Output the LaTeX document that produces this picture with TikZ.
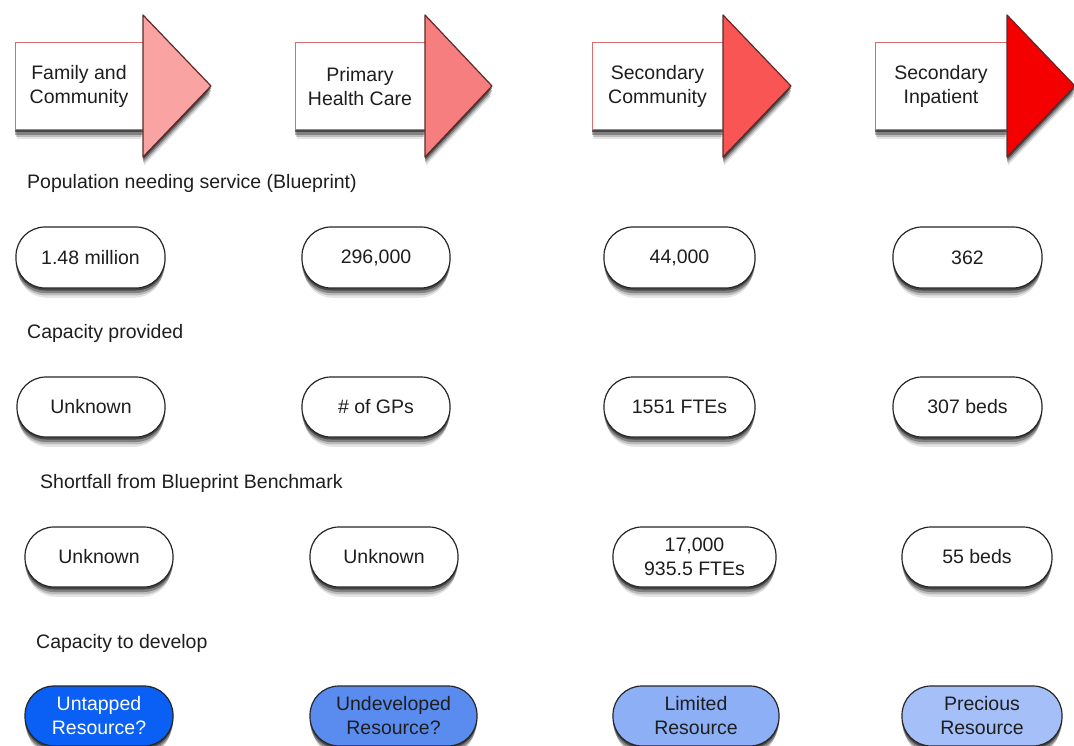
\documentclass[tikz,border=0pt]{standalone}
\usepackage{fontspec}
\setmainfont{Liberation Sans}
\usetikzlibrary{shadows}
\definecolor{txt}{RGB}{30,30,30}
\definecolor{tri1}{RGB}{249,163,163}
\definecolor{tri2}{RGB}{247,126,126}
\definecolor{tri3}{RGB}{250,85,85}
\definecolor{tri4}{RGB}{244,0,0}
\definecolor{rectedge}{RGB}{214,110,110}
\definecolor{triedge}{RGB}{95,40,40}
\definecolor{blueA}{RGB}{10,95,245}
\definecolor{blueB}{RGB}{90,140,240}
\definecolor{blueC}{RGB}{140,175,245}
\definecolor{blueD}{RGB}{165,192,248}
\tikzset{
  every node/.style={font=\fontsize{19.5}{24}\selectfont, text=txt},
  softshadow/.style={
    general shadow={shadow xshift=0pt, shadow yshift=-11pt, shadow scale=0.97, fill=black, opacity=0.10},
    general shadow={shadow xshift=0pt, shadow yshift=-8pt, shadow scale=0.985, fill=black, opacity=0.18},
    general shadow={shadow xshift=0pt, shadow yshift=-5pt, fill=black, opacity=0.30},
    general shadow={shadow xshift=0pt, shadow yshift=-2.5pt, fill=black, opacity=0.45}},
  pill/.style={draw=black!85, line width=1.2pt, fill=white, rectangle, rounded corners=29pt,
    minimum height=60pt, inner sep=0pt, align=center, softshadow},
  stagebox/.style={draw=rectedge, line width=1pt, fill=white, rectangle, minimum height=87pt,
    inner sep=0pt, align=center, softshadow},
  stagetri/.style={draw=triedge, line width=1.2pt, line join=round, softshadow},
  rowlabel/.style={anchor=west, inner sep=0pt}
}
\begin{document}
\begin{tikzpicture}[x=1pt,y=-1pt]
\clip (0,0) rectangle (1074,746);
\fill[white] (0,0) rectangle (1074,746);

% stage arrows
\node[stagebox, minimum width=128pt] (s1) at (79,86.5) {Family and\\Community};
\coordinate (t1) at (211,86);
\filldraw[stagetri, fill=tri1] (143,15) -- (t1) -- (143,157) -- cycle;

\node[stagebox, minimum width=130pt] (s2) at (360,86.5) {Primary\\Health Care};
\coordinate (t2) at (492,86);
\filldraw[stagetri, fill=tri2] (425,15) -- (t2) -- (425,157) -- cycle;

\node[stagebox, minimum width=131pt] (s3) at (657.5,86.5) {Secondary\\Community};
\coordinate (t3) at (791,86);
\filldraw[stagetri, fill=tri3] (723,15) -- (t3) -- (723,157) -- cycle;

\node[stagebox, minimum width=132pt] (s4) at (941,86.5) {Secondary\\Inpatient};
\coordinate (t4) at (1075,86);
\filldraw[stagetri, fill=tri4] (1007,15) -- (t4) -- (1007,157) -- cycle;

% row labels
\node[rowlabel] (l1) at (27,183) {Population needing service (Blueprint)};
\node[rowlabel] (l2) at (27,333) {Capacity provided};
\node[rowlabel] (l3) at (40,483) {Shortfall from Blueprint Benchmark};
\node[rowlabel] (l4) at (36,643) {Capacity to develop};

% row 1
\node[pill, minimum width=149pt, minimum height=61pt] (a1) at (90.5,257.5) {1.48 million};
\node[pill, minimum width=148pt, minimum height=61pt] (a2) at (376,257.5) {296,000};
\node[pill, minimum width=151pt, minimum height=61pt] (a3) at (679.5,257.5) {44,000};
\node[pill, minimum width=149pt, minimum height=61pt] (a4) at (967.5,257.5) {362};

% row 2
\node[pill, minimum width=148pt] (b1) at (91,407) {Unknown};
\node[pill, minimum width=148pt] (b2) at (376,407) {\# of GPs};
\node[pill, minimum width=151pt] (b3) at (679.5,407) {1551 FTEs};
\node[pill, minimum width=149pt] (b4) at (967.5,407) {307 beds};

% row 3
\node[pill, minimum width=148pt] (c1) at (99,557) {Unknown};
\node[pill, minimum width=148pt] (c2) at (384,557) {Unknown};
\node[pill, minimum width=163pt] (c3) at (694.5,557) {17,000\\935.5 FTEs};
\node[pill, minimum width=150pt] (c4) at (977,557) {55 beds};

% row 4
\node[pill, fill=blueA, text=white, minimum width=148pt] (d1) at (99,716) {Untapped\\Resource?};
\node[pill, fill=blueB, minimum width=167pt] (d2) at (393.5,716) {Undeveloped\\Resource?};
\node[pill, fill=blueC, minimum width=166pt] (d3) at (696,716) {Limited\\Resource};
\node[pill, fill=blueD, minimum width=160pt] (d4) at (982,716) {Precious\\Resource};
\end{tikzpicture}
\end{document}
